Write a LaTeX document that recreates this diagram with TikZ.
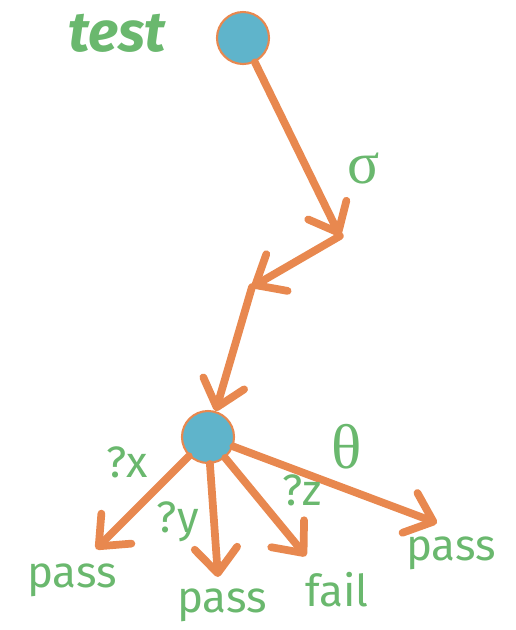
\documentclass[tikz,border=0pt]{standalone}
\usepackage{fontspec}
\setmainfont{Fira Sans}
\newfontfamily\greekfont{Liberation Serif}
\usetikzlibrary{arrows.meta}
\begin{document}
\begin{tikzpicture}[x=0.02cm, y=-0.02cm, line cap=round,
  >={Straight Barb[round, length=0.5cm, width=0.85cm]},
  state/.style={circle, fill=sblue, draw=eorange, line width=1.2pt, minimum size=1.04cm, inner sep=0pt},
  trans/.style={->, draw=eorange, line width=4.4pt},
  lbl/.style={text=lgreen, font=\fontsize{25}{28}\selectfont, inner sep=0pt}]
  \definecolor{sblue}{HTML}{5FB4CB}
  \definecolor{eorange}{HTML}{E8884F}
  \definecolor{lgreen}{HTML}{6AB86E}
  \useasboundingbox (0,0) rectangle (516,630);
  % the test: a run of outputs, then the observations
  \node[state] (top) at (243,38) {};
  \node[state] (low) at (208,437) {};
  \node[lbl, font=\fontsize{32}{34}\selectfont\bfseries\itshape] (name) at (117,33) {test};
  \coordinate (m1) at (340,236);
  \coordinate (m2) at (252,287);
  \draw[trans] (top) -- (m1);
  \draw[trans] (m1) -- (m2);
  \draw[trans] (m2) -- (low);
  \node[lbl, font=\fontsize{34}{36}\selectfont\greekfont] (sig) at (364,168) {σ};
  % leaves with their verdicts
  \foreach \n/\x/\y in {tx/96/549, ty/218/577, tz/306/556, tt/437/523}
    \coordinate (\n) at (\x,\y);
  \foreach \n in {tx,ty,tz,tt} \draw[trans] (low) -- (\n);
  \node[lbl] (vx) at (72,580) {pass};
  \node[lbl] (vy) at (222,605) {pass};
  \node[lbl] (vz) at (337,590) {fail};
  \node[lbl] (vt) at (451,553) {pass};
  \node[lbl] (qx) at (127,462) {?x};
  \node[lbl] (qy) at (178,522) {?y};
  \node[lbl] (qz) at (302,490) {?z};
  \node[lbl, font=\fontsize{36}{38}\selectfont\greekfont] (th) at (347,447) {θ};
\end{tikzpicture}
\end{document}
